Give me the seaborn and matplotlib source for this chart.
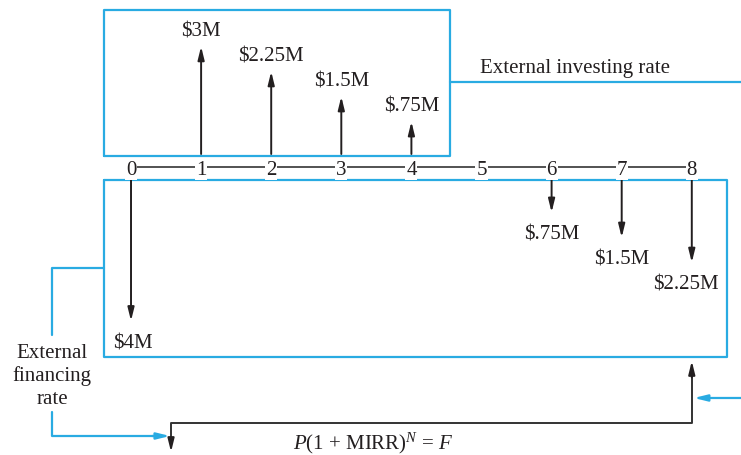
"""Cash flow diagram for MIRR with external investing / financing rates."""

import matplotlib

matplotlib.use("Agg")
import matplotlib.pyplot as plt
import seaborn as sns

# Cash flows ($M), by period
PERIODS = [0, 1, 2, 3, 4, 5, 6, 7, 8]
RECEIPT_PERIODS = [1, 2, 3, 4]
RECEIPTS = [3.0, 2.25, 1.5, 0.75]
RECEIPT_LABELS = ["$3M", "$2.25M", "$1.5M", "$.75M"]
PAYMENT_PERIODS = [0, 6, 7, 8]
PAYMENTS = [4.0, 0.75, 1.5, 2.25]
PAYMENT_LABELS = ["$4M", "$.75M", "$1.5M", "$2.25M"]

INK = "#231F20"
BLUE = "#29ABE2"
FS = 15

sns.set_theme(style="white")
plt.rcParams["font.family"] = ["Liberation Serif", "DejaVu Serif"]
plt.rcParams["mathtext.fontset"] = "custom"
plt.rcParams["mathtext.rm"] = "Liberation Serif"
plt.rcParams["mathtext.it"] = "Liberation Serif:italic"

fig = plt.figure(figsize=(7.41, 4.56), dpi=100)
ax = fig.add_axes([0, 0, 1, 1])
ax.set_xlim(-1.869, 8.702)
ax.set_ylim(-8.623, 5.030)
ax.axis("off")

# time line
sns.lineplot(x=PERIODS, y=[0] * len(PERIODS), ax=ax, color="#444444", lw=1.3)
for p in PERIODS:
    ax.text(p, -0.21, str(p), ha="center", va="baseline", fontsize=FS, color=INK,
            bbox=dict(fc="white", ec="none", pad=0.6), zorder=5)

head = "-|>,head_length=0.65,head_width=0.16"
arrow_kw = dict(arrowstyle=head, lw=1.4, color=INK, shrinkA=0, shrinkB=0)

# receipts (up)
for p, amt, lab in zip(RECEIPT_PERIODS, RECEIPTS, RECEIPT_LABELS):
    tip = amt + 0.61
    ax.annotate("", xy=(p, tip), xytext=(p, 0.389), arrowprops=arrow_kw)
    ax.text(p, tip + 0.32, lab, ha="center", va="baseline", fontsize=FS, color=INK)

# payments (down)
nudge = {0: 0.03, 8: -0.08}
for p, amt, lab in zip(PAYMENT_PERIODS, PAYMENTS, PAYMENT_LABELS):
    tip = -(amt + 0.61)
    ax.annotate("", xy=(p, tip), xytext=(p, -0.389), arrowprops=arrow_kw)
    ax.text(p + nudge.get(p, 0), tip - 0.78, lab, ha="center", va="baseline",
            fontsize=FS, color=INK)

# boxes
box_kw = dict(color=BLUE, lw=1.6)
ax.plot([-0.385, 4.551, 4.551, -0.385, -0.385], [0.329, 0.329, 4.701, 4.701, 0.329], **box_kw)
ax.plot([-0.385, 8.502, 8.502, -0.385, -0.385], [-0.389, -0.389, -5.689, -5.689, -0.389], **box_kw)

# external investing rate
ax.plot([4.551, 8.702], [2.545, 2.545], **box_kw)
ax.text(6.327, 2.844, "External investing rate", ha="center", va="baseline",
        fontsize=FS, color=INK)

# external financing rate
ax.plot([-0.385, -1.127, -1.127], [-3.024, -3.024, -5.030], **box_kw)
ax.text(-1.127, -6.24, "External\nfinancing\nrate", ha="center", va="center",
        multialignment="center", fontsize=FS, color=INK, linespacing=1.25)
ax.plot([-1.127, -1.127, 0.40], [-7.335, -8.054, -8.054], **box_kw)
blue_head = dict(arrowstyle=head, lw=1.6, color=BLUE, shrinkA=0, shrinkB=0)
ax.annotate("", xy=(0.556, -8.054), xytext=(0.30, -8.054), arrowprops=blue_head)
ax.annotate("", xy=(8.03, -6.916), xytext=(8.702, -6.916), arrowprops=blue_head)

# compounding path
ax.plot([0.571, 0.571, 8.0, 8.0], [-8.2, -7.665, -7.665, -6.2], color="#333333", lw=1.4)
ax.annotate("", xy=(8.0, -5.808), xytext=(8.0, -6.3), arrowprops=arrow_kw)
ax.annotate("", xy=(0.571, -8.533), xytext=(0.571, -8.1), arrowprops=arrow_kw)
ax.text(3.452, -8.43, r"$P$(1 + MIRR)$^{N}$ = $F$", ha="center", va="baseline",
        fontsize=FS, color=INK)

fig.savefig("out.png", dpi=100)
